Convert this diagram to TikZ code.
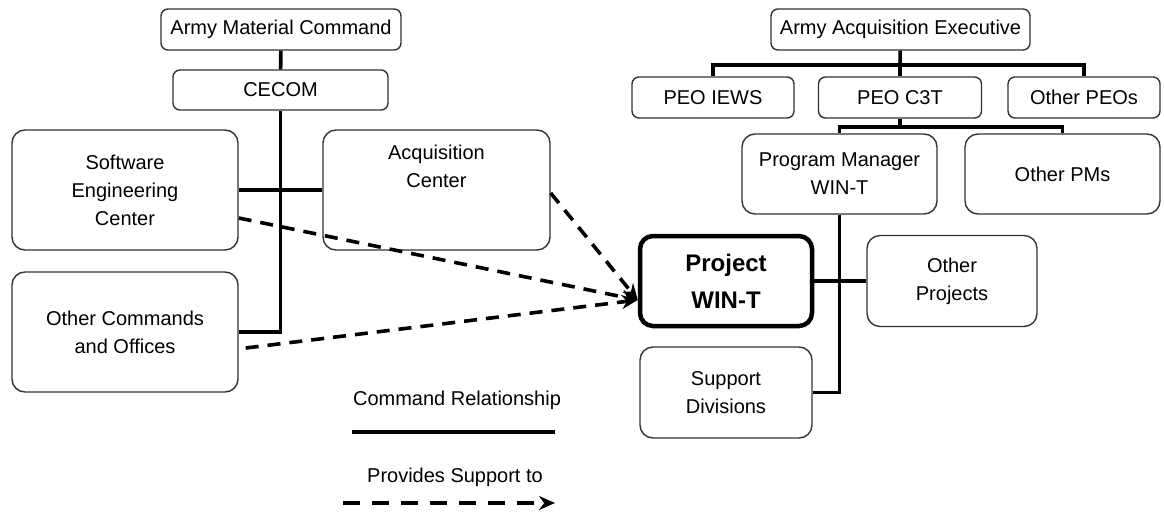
\documentclass[tikz,border=0pt]{standalone}
\usepackage{fontspec}
\setmainfont{Liberation Sans}
\usetikzlibrary{positioning, arrows.meta}

\begin{document}
\begin{tikzpicture}[x=1pt, y=-1pt, >={Stealth[length=16pt, width=14pt]},
    font=\fontsize{20}{28}\selectfont,
    box/.style={draw=black!80, line width=1.4pt, rounded corners=7pt, align=center, inner sep=0pt},
    bigbox/.style={box, rounded corners=13pt},
    cmd/.style={line width=3.6pt},
    sup/.style={line width=3.6pt, dash pattern=on 13pt off 9pt, ->}]
            \useasboundingbox (0,0) rectangle (1164,512);

            % left hand side
            \node[box, minimum width=240, minimum height=41] (amc) at (281,29.5) {Army Material Command};
            \node[box, minimum width=215, minimum height=40] (cecom) at (280.5,90) {CECOM};
            \node[bigbox, minimum width=226, minimum height=120] (sec) at (125,190) {Software\\Engineering\\Center};
            \node[bigbox, minimum width=227, minimum height=120, text depth=48pt] (acq) at (436.5,190) {Acquisition\\Center};
            \node[bigbox, minimum width=226, minimum height=120] (oco) at (125,332) {Other Commands\\and Offices};

            % right hand side
            \node[box, minimum width=259, minimum height=41] (aae) at (900.5,29.5) {Army Acquisition Executive};
            \node[box, minimum width=162, minimum height=41] (iews) at (713,97.5) {PEO IEWS};
            \node[box, minimum width=163, minimum height=41] (c3t) at (900,97.5) {PEO C3T};
            \node[box, minimum width=152, minimum height=41] (opeo) at (1084,97.5) {Other PEOs};
            \node[bigbox, minimum width=195, minimum height=80] (pm) at (839.5,174) {Program Manager\\WIN-T};
            \node[bigbox, minimum width=195, minimum height=80] (opm) at (1062.5,174) {Other PMs};
            \node[bigbox, draw=black, line width=4.5pt, minimum width=172, minimum height=90,
                  font=\fontsize{24}{37}\selectfont\bfseries] (proj) at (726,281) {Project\\WIN-T};
            \node[bigbox, minimum width=170, minimum height=91] (oproj) at (952,281) {Other\\Projects};
            \node[bigbox, minimum width=172, minimum height=91] (sd) at (726,392.5) {Support\\Divisions};

            \coordinate (bus1) at (900,65);
            \coordinate (bus2) at (900,127);

            % command relationships
            \draw[cmd] (amc) -- (cecom);
            \draw[cmd] (cecom.south) |- (oco.east);
            \draw[cmd] (sec.east) -- (acq.west);
            \draw[cmd] (aae) -- (bus1);
            \draw[cmd] (iews.north) |- (bus1) -| (opeo.north);
            \draw[cmd] (bus1) -- (c3t);
            \draw[cmd] (c3t) -- (bus2);
            \draw[cmd] (pm.north) |- (bus2) -| (opm.north);
            \draw[cmd] (pm.south) |- (sd.east);
            \draw[cmd] (proj.east) -- (oproj.west);

            % support relationships
            \draw[sup] ([yshift=-28pt]sec.east) -- ([yshift=-19pt]proj.west);
            \draw[sup] ([yshift=-3pt]acq.east) -- ([yshift=-19pt]proj.west);
            \draw[sup] ([xshift=7pt, yshift=-16pt]oco.east) -- ([yshift=-19pt]proj.west);

            % legend
            \node (lgcmd) at (457,400) {Command Relationship};
            \coordinate (lgcmdA) at (352,432);
            \coordinate (lgcmdB) at (555,432);
            \draw[cmd] (lgcmdA) -- (lgcmdB);
            \node (lgsup) at (455,477) {Provides Support to};
            \coordinate (lgsupA) at (343,503);
            \coordinate (lgsupB) at (555,503);
            \draw[sup, dash pattern=on 17pt off 12pt] (lgsupA) -- (lgsupB);
          \end{tikzpicture}
\end{document}
